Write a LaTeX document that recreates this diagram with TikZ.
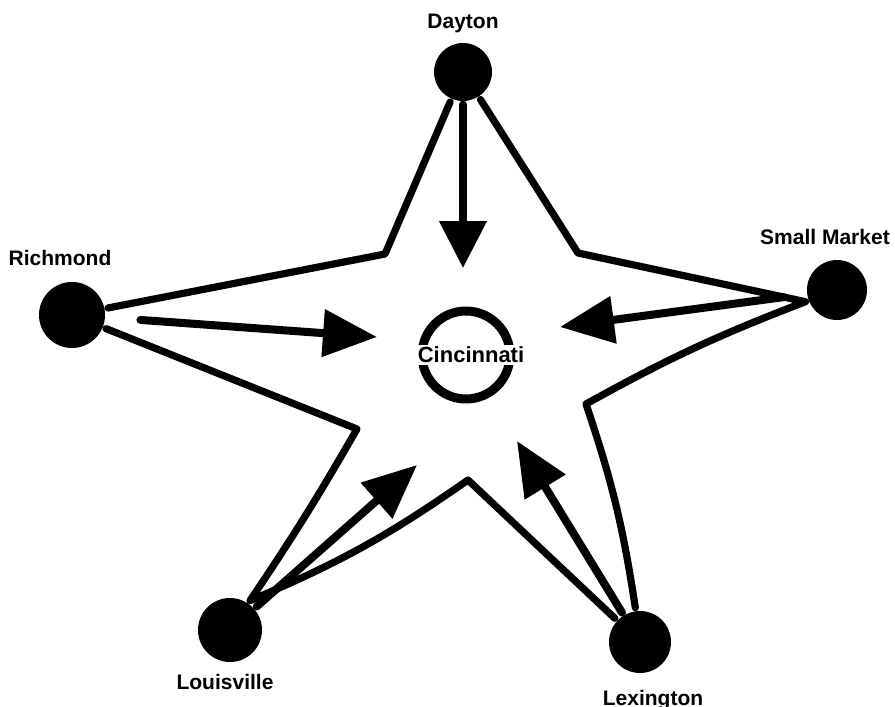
\documentclass[tikz,border=0pt]{standalone}
\usepackage{fontspec}
\setmainfont{Liberation Sans}
\usetikzlibrary{arrows.meta,positioning}

\begin{document}
\begin{tikzpicture}[x=0.5pt,y=-0.5pt,>={Triangle[length=27pt,width=23pt]},
        line width=3.6pt,line cap=round,line join=round,
        town/.style={circle,fill=black,inner sep=0pt,minimum size=#1},
        townname/.style={font=\bfseries\fontsize{10.5}{12}\selectfont,inner sep=0pt},
        flow/.style={->,line width=4pt}]
    \useasboundingbox (0,0) rectangle (895,707);
    % towns
    \node[town=29pt] (dayton) at (463,72){};
    \node[town=33pt] (richmond) at (72,315){};
    \node[town=30pt] (smallmkt) at (837,290){};
    \node[town=32pt] (louisville) at (230,630){};
    \node[town=31pt] (lexington) at (640,642){};
    \node[townname,above=1.5pt of dayton]{Dayton};
    \node[townname,above=4.5pt of richmond,xshift=-6pt]{Richmond};
    \node[townname,above=4pt of smallmkt,xshift=-6pt]{Small Market};
    \node[townname,below=2.5pt of louisville,xshift=-2.5pt]{Louisville};
    \node[townname,below=5pt of lexington,xshift=6.5pt]{Lexington};
    % star
    \coordinate (c1) at (385,254);
    \coordinate (c2) at (578,253);
    \coordinate (c3) at (586,404);
    \coordinate (c4) at (468,480);
    \coordinate (c5) at (357,429);
    \draw (dayton)--(c1)--(richmond)--(c5) to[bend left=2] (louisville) to[bend right=6] (c4)--(lexington) to[bend right=5] (c3) to[bend left=4] (smallmkt)--(c2)--(dayton);
    % Cincinnati
    \node[circle,draw,line width=4.5pt,minimum size=44pt] (cincy) at (466,355){};
    \node[townname,font=\bfseries\fontsize{11}{12}\selectfont,fill=white,inner sep=1pt,xshift=2.5pt] at (cincy){Cincinnati};
    % flows
    \coordinate (tD) at (463,268);
    \coordinate (tR) at (377,337);
    \coordinate (tS) at (560,327);
    \coordinate (tLo) at (417,465);
    \coordinate (tLe) at (517,441);
    \draw[flow,>={Triangle[length=23.5pt,width=23pt]}] (dayton)--(tD);
    \draw[flow,shorten <=16pt] (richmond)--(tR);
    \draw[flow,shorten <=10pt] (smallmkt)--(tS);
    \draw[flow] (louisville)--(tLo);
    \draw[flow] (lexington)--(tLe);
\end{tikzpicture}
\end{document}
